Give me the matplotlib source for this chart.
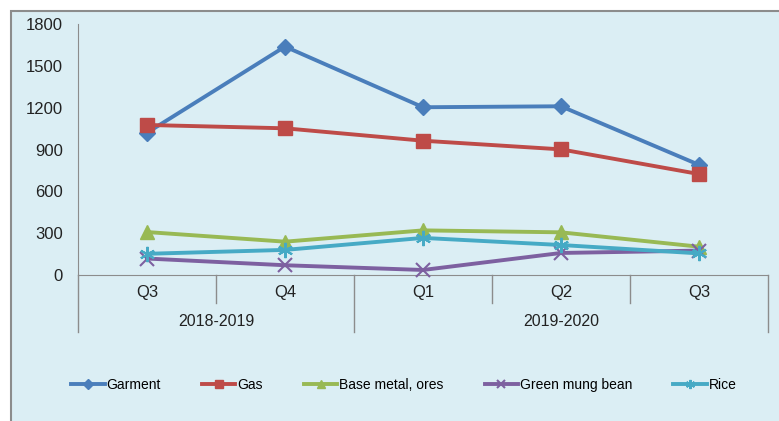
import matplotlib
matplotlib.use("Agg")
import matplotlib.pyplot as plt
from matplotlib.patches import Rectangle
from matplotlib.lines import Line2D
import matplotlib.transforms as mtransforms
from matplotlib import font_manager

quarters = ["Q3", "Q4", "Q1", "Q2", "Q3"]
years = ["2018-2019", "2019-2020"]
year_spans = [(0, 2), (2, 5)]  # index ranges of quarters for each year

garment = [1020, 1638, 1203, 1210, 790]
gas = [1076, 1052, 963, 901, 724]
base_metal = [308, 239, 320, 306, 203]
green_mung_bean = [118, 70, 36, 158, 175]
rice = [152, 180, 266, 215, 155]

series_names = ["Garment", "Gas", "Base metal, ores", "Green mung bean", "Rice"]
series_values = [garment, gas, base_metal, green_mung_bean, rice]
colors = ["#4A7EBB", "#BE4B48", "#98B954", "#7D60A0", "#46AAC5"]
markers = ["D", "s", "^", "x", (6, 2, 0)]
msizes = [8, 10, 10, 10, 11]

avail = {f.name for f in font_manager.fontManager.ttflist}
fam = "Liberation Sans Narrow" if "Liberation Sans Narrow" in avail else "Liberation Sans"
plt.rcParams["font.family"] = [fam, "DejaVu Sans"]

W, H = 779, 421
fig = plt.figure(figsize=(W / 100, H / 100), dpi=100)
fig.patch.set_facecolor("white")
bg = Rectangle((11 / W, -0.1), 1.2, 1.1 - 11 / H, transform=fig.transFigure,
               facecolor="#DBEEF4", edgecolor="#8C8C8C", linewidth=1.5, zorder=-10)
fig.patches.append(bg)

left, right, top, bottom = 78, 768, 24, 275
ax = fig.add_axes([left / W, 1 - bottom / H, (right - left) / W, (bottom - top) / H])
ax.set_facecolor("none")
ax.set_zorder(1)

x = list(range(len(quarters)))
for name, vals, c, m, ms in zip(series_names, series_values, colors, markers, msizes):
    mew = 1.5 if m in ("x", (6, 2, 0)) else 1
    ax.plot(x, vals, color=c, linewidth=2.8, marker=m, markersize=ms,
            markeredgewidth=mew, markeredgecolor=c, markerfacecolor=c,
            label=name, clip_on=False, zorder=3)

ax.set_xlim(-0.5, len(quarters) - 0.5)
ax.set_ylim(0, 1800)
ax.set_yticks([0, 300, 600, 900, 1200, 1500, 1800])
ax.tick_params(axis="y", length=0, labelsize=12, pad=11, labelcolor="#222222")
ax.set_xticks([])
for s in ["top", "right"]:
    ax.spines[s].set_visible(False)
ax.spines["left"].set_color("#8C8C8C")
ax.spines["bottom"].set_color("#8C8C8C")

trans = mtransforms.blended_transform_factory(ax.transData, ax.transAxes)
ax_h = bottom - top
q_y = -(293 - bottom) / ax_h
yr_y = -(322 - bottom) / ax_h
short_end = -(303 - bottom) / ax_h
long_end = -(332 - bottom) / ax_h

for i, q in enumerate(quarters):
    ax.text(i, q_y, q, transform=trans, ha="center", va="center", fontsize=12, color="#222222")

year_bounds = set()
for (a, b) in year_spans:
    year_bounds.add(a)
    year_bounds.add(b)
for i in range(len(quarters) + 1):
    end = long_end if i in year_bounds else short_end
    ax.add_line(Line2D([i - 0.5, i - 0.5], [0, end], transform=trans,
                       color="#8C8C8C", linewidth=1, clip_on=False))
for yname, (a, b) in zip(years, year_spans):
    ax.text((a + b - 1) / 2, yr_y, yname, transform=trans, ha="center", va="center",
            fontsize=11.5, color="#222222")

handles, labels = ax.get_legend_handles_labels()
leg = fig.legend(handles, labels, loc="center", bbox_to_anchor=(0.5186, 1 - 385 / H),
                 ncol=5, frameon=False, fontsize=10, handlelength=2.4,
                 handletextpad=0.15, columnspacing=2.95, markerscale=0.6)

fig.savefig("out.png", dpi=100)
